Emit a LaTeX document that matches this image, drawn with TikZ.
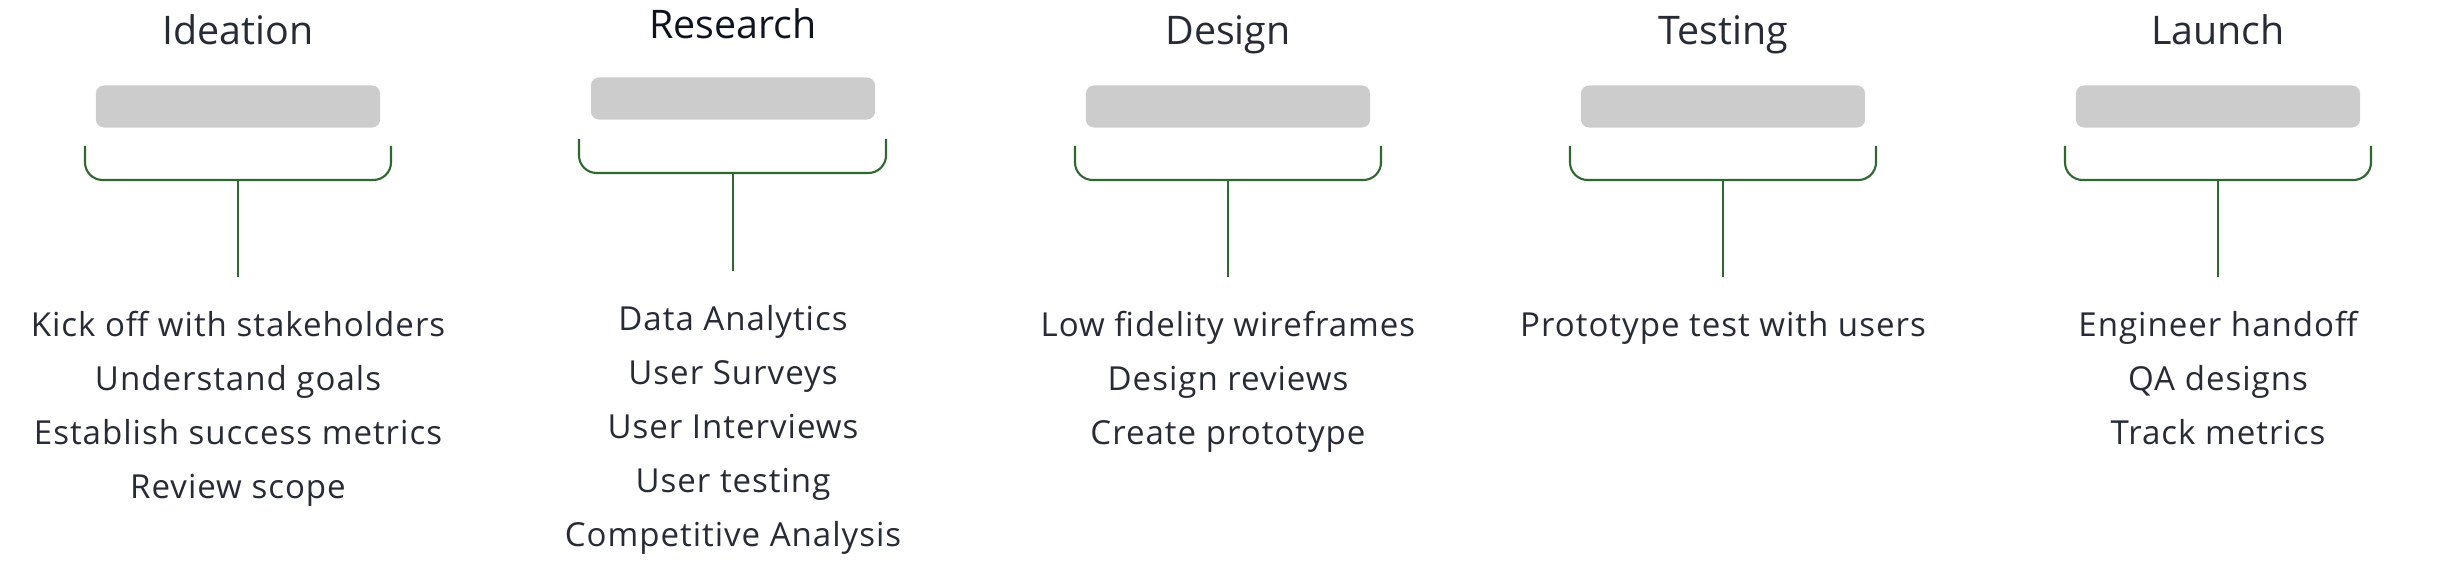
\documentclass[tikz,border=0pt]{standalone}
\usepackage{fontspec}
\setmainfont{Open Sans}
\newfontfamily\itemfont{Open Sans}[LetterSpace=3]
\definecolor{inkgray}{HTML}{272B36}
\definecolor{inkdark}{HTML}{0E1320}
\definecolor{leafgreen}{RGB}{47,104,47}
\definecolor{bargray}{HTML}{CCCCCC}
\begin{document}
\begin{tikzpicture}[x=0.01cm,y=-0.01cm,
  phase/.style={anchor=base,text=inkgray,font=\fontsize{11.2}{13}\selectfont,inner sep=0pt},
  bar/.style={fill=bargray,rounded corners=2.3pt,minimum width=2.84cm,minimum height=0.42cm,inner sep=0pt},
  brace/.style={draw=leafgreen,line width=0.6pt,rounded corners=5pt},
  item/.style={anchor=base,text=inkgray,font=\itemfont\fontsize{9.4}{11}\selectfont,inner sep=0pt}]
\useasboundingbox (0,0) rectangle (2456,561);

% Ideation
\node[phase] (t1) at (238,45) {Ideation};
\node[bar] (b1) at (238,106.5) {};
\draw[brace] (85,146) -- (85,180) -- (391,180) -- (391,146);
\coordinate (k1) at (238,180);
\coordinate (s1) at (238,277);
\draw[brace] (k1) -- (s1);
\node[item] (i11) at (238,337) {Kick off with stakeholders};
\node[item] (i12) at (238,391) {Understand goals};
\node[item] (i13) at (238,445) {Establish success metrics};
\node[item] (i14) at (238,499) {Review scope};

% Research
\node[phase,text=inkdark] (t2) at (733,39) {Research};
\node[bar] (b2) at (733,98.5) {};
\draw[brace] (579,139) -- (579,173) -- (886,173) -- (886,139);
\coordinate (k2) at (733,173);
\coordinate (s2) at (733,271);
\draw[brace] (k2) -- (s2);
\node[item] (i21) at (733,331) {Data Analytics};
\node[item] (i22) at (733,385) {User Surveys};
\node[item] (i23) at (733,439) {User Interviews};
\node[item] (i24) at (733,493) {User testing};
\node[item] (i25) at (733,547) {Competitive Analysis};

% Design
\node[phase] (t3) at (1228,45) {Design};
\node[bar] (b3) at (1228,106.5) {};
\draw[brace] (1075,146) -- (1075,180) -- (1381,180) -- (1381,146);
\coordinate (k3) at (1228,180);
\coordinate (s3) at (1228,277);
\draw[brace] (k3) -- (s3);
\node[item] (i31) at (1228,337) {Low fidelity wireframes};
\node[item] (i32) at (1228,391) {Design reviews};
\node[item] (i33) at (1228,445) {Create prototype};

% Testing
\node[phase] (t4) at (1723,45) {Testing};
\node[bar] (b4) at (1723,106.5) {};
\draw[brace] (1570,146) -- (1570,180) -- (1876,180) -- (1876,146);
\coordinate (k4) at (1723,180);
\coordinate (s4) at (1723,277);
\draw[brace] (k4) -- (s4);
\node[item] (i41) at (1723,337) {Prototype test with users};

% Launch
\node[phase] (t5) at (2218,45) {Launch};
\node[bar] (b5) at (2218,106.5) {};
\draw[brace] (2065,146) -- (2065,180) -- (2371,180) -- (2371,146);
\coordinate (k5) at (2218,180);
\coordinate (s5) at (2218,277);
\draw[brace] (k5) -- (s5);
\node[item] (i51) at (2218,337) {Engineer handoff};
\node[item] (i52) at (2218,391) {QA designs};
\node[item] (i53) at (2218,445) {Track metrics};
\end{tikzpicture}
\end{document}
